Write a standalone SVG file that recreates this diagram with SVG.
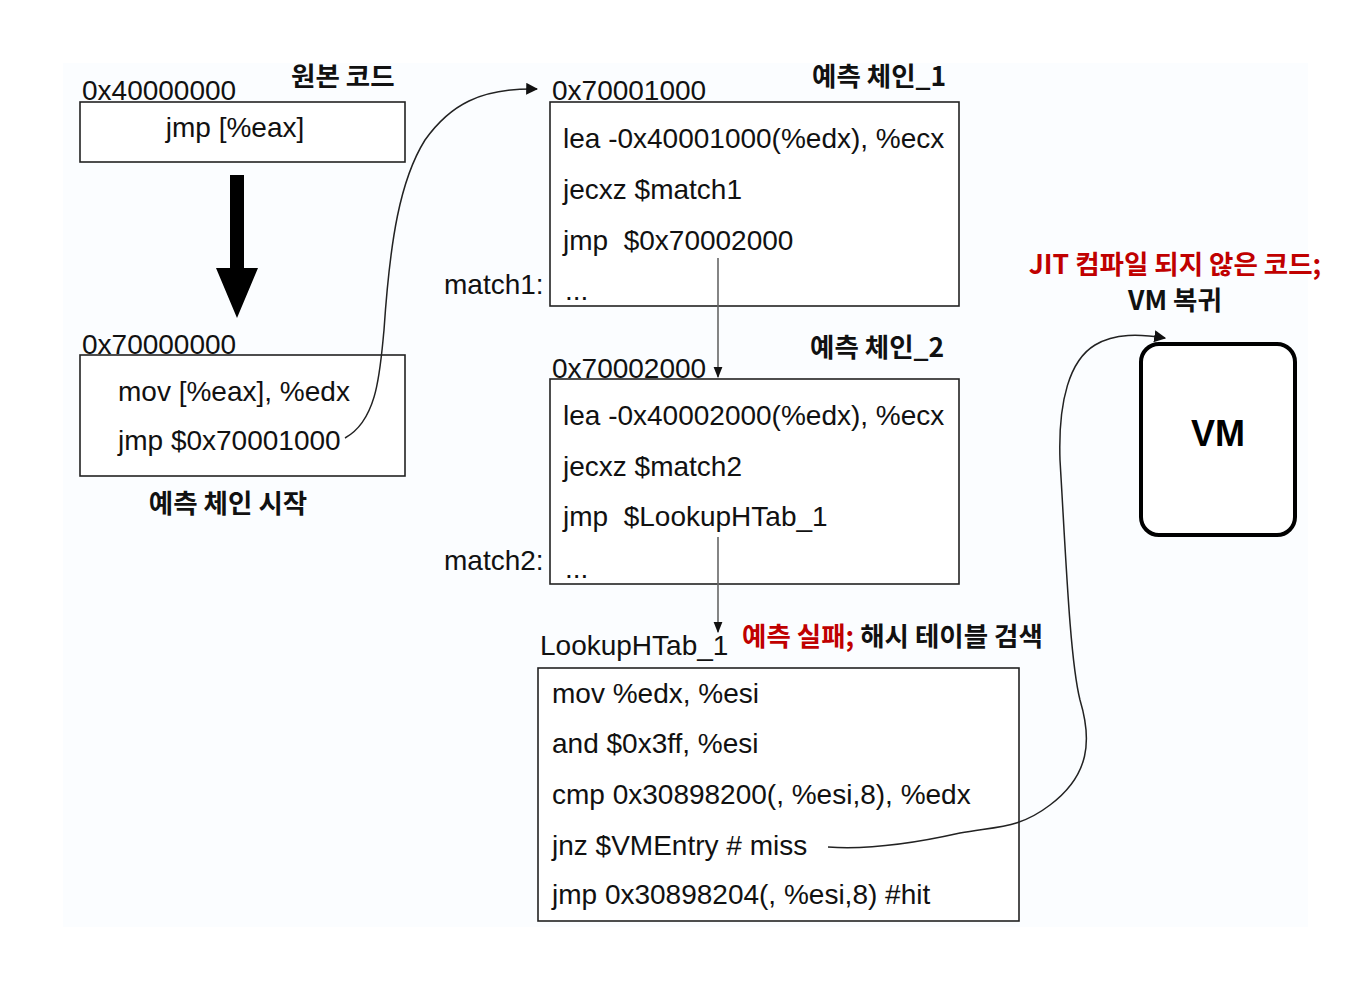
<svg xmlns="http://www.w3.org/2000/svg" width="1370" height="982" viewBox="0 0 1370 982">
<defs>
<style>
.code{font-family:"Liberation Sans",Arial,sans-serif;font-size:28px;fill:#111;white-space:pre}
.kr{font-family:"Noto Sans CJK KR","Noto Sans",sans-serif;font-weight:700;font-size:26.5px;fill:#111}
.red{fill:#C00000}
.box{fill:#fff;stroke:#222;stroke-width:1.6}
.conn{fill:none;stroke:#222;stroke-width:1.5}
.gray{fill:none;stroke:#666;stroke-width:1.6}
</style>
<marker id="ah" viewBox="0 0 10 10" refX="9" refY="5" markerWidth="12" markerHeight="12" markerUnits="userSpaceOnUse" orient="auto">
<path d="M0,0 L10,5 L0,10 Z" fill="#111"/>
</marker>
<marker id="ahs" viewBox="0 0 10 10" refX="9" refY="5" markerWidth="11" markerHeight="11" markerUnits="userSpaceOnUse" orient="auto">
<path d="M0,1 L10,5 L0,9 Z" fill="#111"/>
</marker>
</defs>
<rect x="0" y="0" width="1370" height="982" fill="#fff"/>
<rect x="63" y="63" width="1245" height="864" fill="#FBFDFF"/>

<g id="orig">
<text class="code" x="82" y="100">0x40000000</text>
<text class="kr" x="291" y="86">원본 코드</text>
<rect class="box" x="80" y="102" width="325" height="60"/>
<text class="code" x="235" y="137" text-anchor="middle">jmp [%eax]</text>
</g>

<g id="bigarrow">
<path d="M230,175 L244,175 L244,268 L258,268 L237,318 L216,268 L230,268 Z" fill="#000"/>
</g>

<g id="start">
<text class="code" x="82" y="354">0x70000000</text>
<rect class="box" x="80" y="355" width="325" height="121"/>
<text class="code" x="118" y="401">mov [%eax], %edx</text>
<text class="code" x="118" y="450">jmp $0x70001000</text>
<text class="kr" x="228" y="513" text-anchor="middle">예측 체인 시작</text>
</g>

<g id="chain1">
<text class="code" x="552" y="100">0x70001000</text>
<text class="kr" x="812" y="86">예측 체인_1</text>
<rect class="box" x="550" y="102" width="409" height="204"/>
<text class="code" x="563" y="148">lea -0x40001000(%edx), %ecx</text>
<text class="code" x="563" y="199">jecxz $match1</text>
<text class="code" x="563" y="250" xml:space="preserve">jmp  $0x70002000</text>
<text class="code" x="565" y="300">...</text>
<text class="code" x="444" y="294">match1:</text>
</g>

<g id="chain2">
<text class="code" x="552" y="378">0x70002000</text>
<text class="kr" x="810" y="357">예측 체인_2</text>
<rect class="box" x="550" y="379" width="409" height="205"/>
<text class="code" x="563" y="425">lea -0x40002000(%edx), %ecx</text>
<text class="code" x="563" y="476">jecxz $match2</text>
<text class="code" x="563" y="526" xml:space="preserve">jmp  $LookupHTab_1</text>
<text class="code" x="565" y="578">...</text>
<text class="code" x="444" y="570">match2:</text>
</g>

<g id="lookup">
<text class="code" x="540" y="655">LookupHTab_1</text>
<text class="kr" x="742" y="646"><tspan class="red">예측 실패;</tspan> 해시 테이블 검색</text>
<rect class="box" x="538" y="668" width="481" height="253"/>
<text class="code" x="552" y="703">mov %edx, %esi</text>
<text class="code" x="552" y="753">and $0x3ff, %esi</text>
<text class="code" x="552" y="804">cmp 0x30898200(, %esi,8), %edx</text>
<text class="code" x="552" y="855">jnz $VMEntry # miss</text>
<text class="code" x="552" y="904">jmp 0x30898204(, %esi,8) #hit</text>
</g>

<g id="vm">
<text class="kr red" x="1175" y="274" text-anchor="middle">JIT 컴파일 되지 않은 코드;</text>
<text class="kr" x="1175" y="310" text-anchor="middle">VM 복귀</text>
<rect x="1141" y="344" width="154" height="191" rx="18" ry="18" fill="#fff" stroke="#000" stroke-width="4"/>
<text x="1218" y="446" text-anchor="middle" style="font-family:'Liberation Sans',Arial,sans-serif;font-weight:700;font-size:36px;fill:#000">VM</text>
</g>

<g id="connectors">
<path class="conn" d="M345,438 C378,420 380,370 384,330 C390,240 400,180 425,140 C450,105 480,88 537,89" marker-end="url(#ah)"/>
<path class="gray" d="M718,258 L718,377" marker-end="url(#ahs)"/>
<path class="gray" d="M718,537 L718,632" marker-end="url(#ahs)"/>
<path class="conn" d="M828,847 C870,850 920,842 960,833 C1000,826 1020,828 1050,805 C1090,775 1092,740 1080,700 C1070,660 1066,560 1060,460 C1058,400 1070,360 1095,345 C1115,333 1140,334 1165,338" marker-end="url(#ah)"/>
</g>
</svg>
